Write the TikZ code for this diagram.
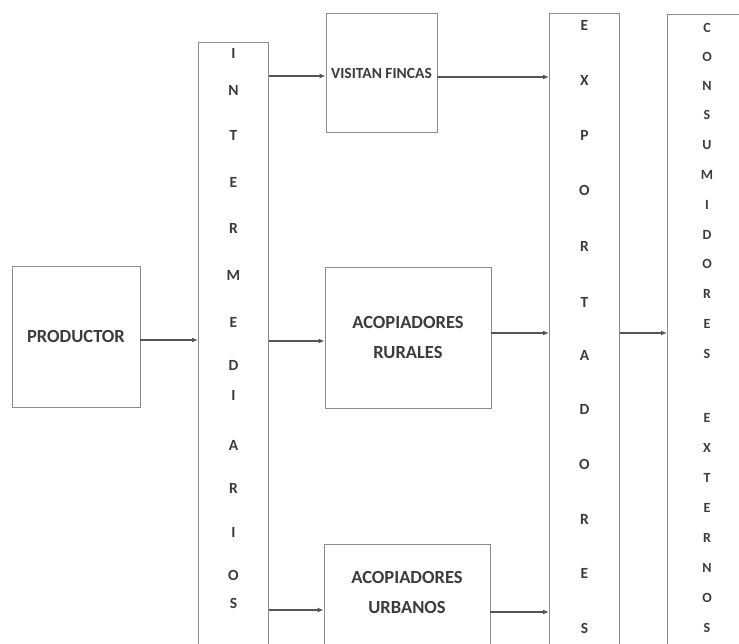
\documentclass[tikz,border=0pt]{standalone}
\usepackage{fontspec}
\setmainfont{Carlito}
\usetikzlibrary{arrows.meta}
\definecolor{boxgray}{HTML}{8C8C8C}
\definecolor{linegray}{HTML}{555555}
\definecolor{txtgray}{HTML}{3C3C3C}
\begin{document}
\begin{tikzpicture}[x=1pt,y=-1pt,
  frame/.style={draw=boxgray, line width=0.9pt, inner sep=0pt},
  boxtext/.style={font=\bfseries\fontsize{18.5}{30}\selectfont, text=txtgray, align=center, inner sep=0pt},
  box/.style={frame, boxtext},
  letter/.style={font=\bfseries\fontsize{15.5}{18}\selectfont, text=txtgray, inner sep=0pt},
  smallletter/.style={font=\bfseries\fontsize{14}{17}\selectfont, text=txtgray, inner sep=0pt},
  arr/.style={draw=linegray, line width=1.8pt, -{Latex[length=6pt,width=5pt]}}]
\useasboundingbox (0,0) rectangle (739,644);
\clip (0,0) rectangle (739,644);
\fill[white] (0,0) rectangle (739,644);

% boxes
\node[box, minimum width=128pt, minimum height=141pt] (prod) at (76,336.5) {PRODUCTOR};
\node[frame, minimum width=70pt, minimum height=640pt, anchor=north west] (inter) at (198,42) {};
\node[box, minimum width=111pt, minimum height=119pt,
      font=\bfseries\fontsize{15.5}{20}\selectfont] (visit) at (381.5,73) {VISITAN FINCAS};
\node[box, minimum width=166pt, minimum height=141pt] (rur) at (408,337.5) {ACOPIADORES\\RURALES};
\node[frame, minimum width=166pt, minimum height=140pt, anchor=north] (urb) at (407,544) {};
\node[boxtext] (urbtext) at (urb.north) [yshift=-48.5pt] {ACOPIADORES\\URBANOS};
\node[frame, minimum width=70pt, minimum height=660pt, anchor=north west] (expo) at (549,13) {};
\node[frame, minimum width=78pt, minimum height=660pt, anchor=north west] (cons) at (667,14) {};

% vertical lettering
\foreach \c/\y in {I/53,N/90,T/135,E/182,R/228,M/275,E/322,D/365,I/395,A/445,R/488,I/532,O/575,S/603}
  \node[letter] at (inter.north |- 0,\y) {\c};
\foreach \c/\y in {E/25,X/80,P/135,O/190,R/246,T/302,A/355,D/409,O/464,R/519,E/573,S/628}
  \node[letter] at (expo.north |- 0,\y) {\c};
\foreach \c/\y in {C/28,O/57,N/86,S/115,U/145,M/175,I/205,D/235,O/264,R/294,E/324,S/354,
                   E/418,X/448,T/478,E/508,R/538,N/568,O/598,S/628}
  \node[smallletter] at (707,\y) {\c};

% connectors
\draw[arr] (prod.east |- 0,340) -- (inter.west |- 0,340);
\draw[arr] (inter.east |- 0,76) -- (visit.west |- 0,76);
\draw[arr] (inter.east |- 0,341) -- (rur.west |- 0,341);
\draw[arr] (inter.east |- 0,610) -- (urb.west |- 0,610);
\draw[arr] (visit.east |- 0,77) -- (expo.west |- 0,77);
\draw[arr] (rur.east |- 0,333) -- (expo.west |- 0,333);
\draw[arr] (urb.east |- 0,612) -- (expo.west |- 0,612);
\draw[arr] (expo.east |- 0,333) -- (cons.west |- 0,333);
\end{tikzpicture}
\end{document}
